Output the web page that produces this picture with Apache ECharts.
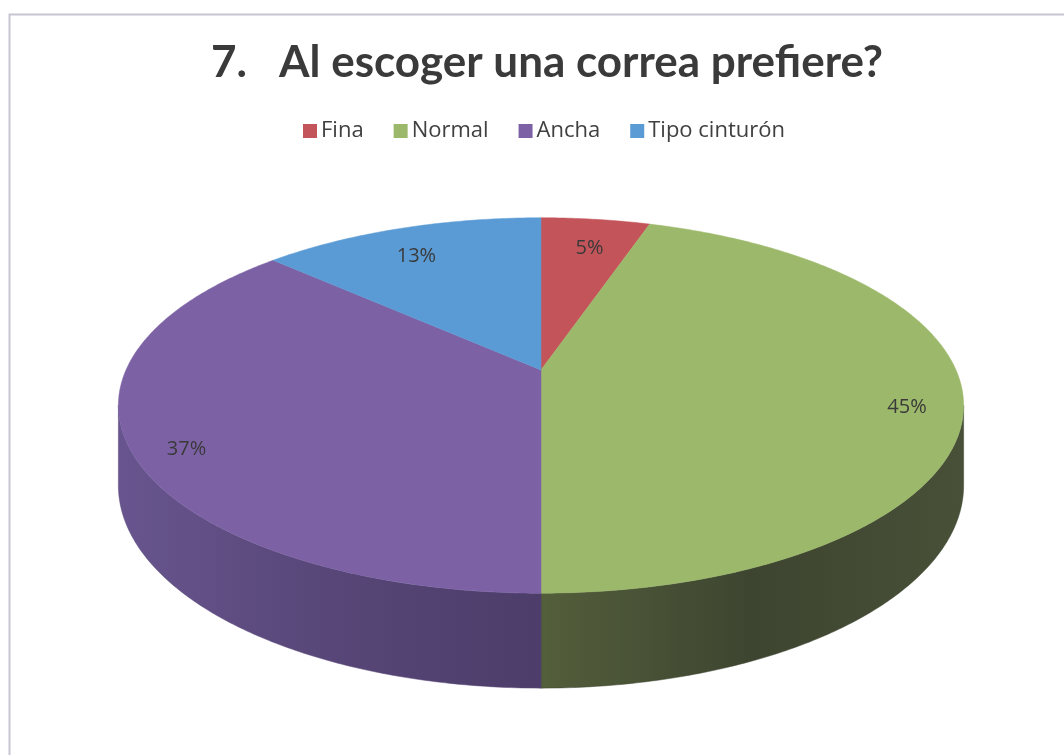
<!DOCTYPE html>
<html>
<head>
<meta charset="utf-8">
<title>Al escoger una correa prefiere?</title>
<script src="https://cdn.jsdelivr.net/npm/echarts@6/dist/echarts.min.js"></script>
<style>
  html, body { margin: 0; padding: 0; background: #fff; }
  #chart { width: 1064px; height: 755px; }
</style>
</head>
<body>
<div id="chart"></div>
<script>
// datos
const titleText = '7.   Al escoger una correa prefiere?'
const categories = ['Fina', 'Normal', 'Ancha', 'Tipo cinturón']
const percents = [5, 45, 37, 13]

// colores (cara superior y lateral)
const topColors = ['#c3555a', '#9cb86a', '#7c62a5', '#5b9bd5']
const sideColors = [
  ['#8c3b3e', '#732f32'],
  ['#535e3b', '#3d4530', '#485038'],
  ['#68558f', '#574677', '#4c3d6a'],
  ['#3f6f9b', '#34607f'],
]

// geometria del pastel 3D (perspectiva sencilla)
const CX = 541, CY = 370, RX = 415, RY = 181, P = 0.189, DEPTH = 77
const LABEL_R = 0.87, LABEL_DY = 12
const total = percents.reduce((s, v) => s + v, 0)
const startAngles = []
percents.reduce((acc, v, i) => {
  startAngles[i] = acc
  return acc + (v / total) * Math.PI * 2
}, 0)
// angulos donde la pared lateral es tangente a la vista
const tA = Math.acos(-P)
const tB = Math.PI * 2 - tA

const project = (phi, r, down) => {
  const X = r * Math.sin(phi)
  const Z = r * Math.cos(phi)
  const w = 1 / (1 + P * Z)
  return [CX + RX * X * w, CY - RY * Z * w + (down || 0) * w]
}

const arc = (a, b, down) => {
  const pts = []
  const n = Math.max(2, Math.ceil(Math.abs(b - a) / 0.01))
  for (let k = 0; k <= n; k++) {
    pts.push(project(a + ((b - a) * k) / n, 1, down))
  }
  return pts
}

const makeRender = (i) => (params, api) => {
  const a = startAngles[i]
  const b = a + (percents[i] / total) * Math.PI * 2
  const children = []

  // pared lateral visible
  const sa = Math.max(a, tA)
  const sb = Math.min(b, tB)
  if (sb > sa) {
    const pts = arc(sa, sb, 0).concat(arc(sb, sa, DEPTH))
    const stops = sideColors[i].map((c, k, arr) => ({ offset: k / (arr.length - 1), color: c }))
    children.push({
      type: 'polygon',
      shape: { points: pts },
      style: {
        fill: new echarts.graphic.LinearGradient(0, 0, 1, 0, stops),
        stroke: sideColors[i][1],
        lineWidth: 0.5,
      },
    })
  }

  // cara superior
  children.push({
    type: 'polygon',
    shape: { points: [[CX, CY]].concat(arc(a, b, 0)) },
    style: { fill: topColors[i], stroke: topColors[i], lineWidth: 0.5 },
  })

  // etiqueta
  const mid = (a + b) / 2
  const pos = project(mid, LABEL_R, 0)
  children.push({
    type: 'text',
    x: pos[0],
    y: pos[1] + LABEL_DY,
    style: {
      text: percents[i] + '%',
      fill: '#3a3a3a',
      font: '20px "Open Sans", sans-serif',
      align: 'center',
      verticalAlign: 'middle',
    },
  })
  return { type: 'group', children }
}

const chart = echarts.init(document.getElementById('chart'))

const option = {
  animation: false,
  title: {
    text: titleText,
    left: 542,
    textAlign: 'center',
    top: 36,
    textStyle: {
      color: '#3a3a3a',
      fontSize: 44,
      fontWeight: 'bold',
      fontFamily: 'Lato, sans-serif',
    },
  },
  legend: {
    top: 115,
    left: 298,
    icon: 'rect',
    itemWidth: 14,
    itemHeight: 14,
    itemGap: 30,
    textStyle: {
      color: '#404040',
      fontSize: 22,
      fontFamily: '"Open Sans", sans-serif',
      padding: [0, 0, 0, -1],
    },
    data: categories,
  },
  graphic: [
    {
      type: 'rect',
      shape: { x: 9.5, y: 14.5, width: 1100, height: 800 },
      style: { fill: 'none', stroke: '#c6c6d0', lineWidth: 2 },
      silent: true,
    },
  ],
  series: categories.map((name, i) => ({
    type: 'custom',
    name: name,
    coordinateSystem: 'none',
    itemStyle: { color: topColors[i] },
    renderItem: makeRender(i),
    data: [[percents[i]]],
  })),
}

chart.setOption(option)
</script>
</body>
</html>
